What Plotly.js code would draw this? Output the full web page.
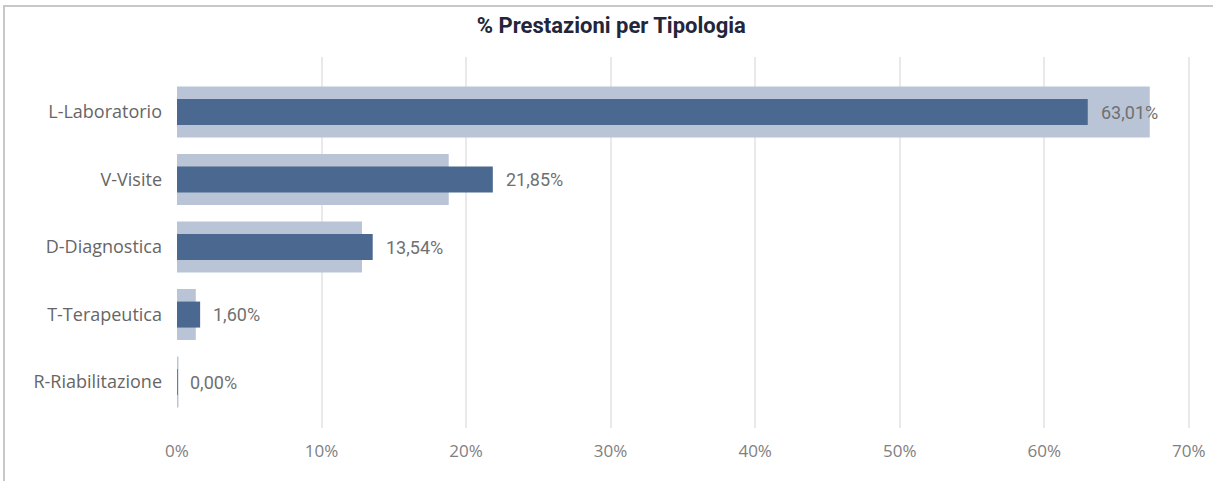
<!DOCTYPE html>
<html>
<head>
<meta charset="utf-8">
<script src="https://cdn.plot.ly/plotly-3.0.1.min.js"></script>
<style>
html,body{margin:0;padding:0;background:#fff;}
#wrap{position:relative;width:1213px;height:481px;}
#chart{width:1213px;height:481px;}
#frame{position:absolute;left:3px;top:5px;width:1212px;height:480px;border-left:2px solid #c8c8c8;border-top:2px solid #c8c8c8;pointer-events:none;}
</style>
</head>
<body>
<div id="wrap"><div id="chart"></div><div id="frame"></div></div>
<script>
const categories = ["L-Laboratorio", "V-Visite", "D-Diagnostica", "T-Terapeutica", "R-Riabilitazione"];
const actualValues = [63.01, 21.85, 13.54, 1.60, 0.00];
const referenceValues = [67.3, 18.8, 12.8, 1.3, 0.1];
const xTickValues = [0, 10, 20, 30, 40, 50, 60, 70];
const xTickLabels = ["0%", "10%", "20%", "30%", "40%", "50%", "60%", "70%"];

const labels = actualValues.map(v => v.toFixed(2).replace('.', ',') + '%');

const traces = [
  {
    type: 'bar', orientation: 'h', y: categories, x: referenceValues,
    width: categories.map(() => 0.755),
    marker: {color: '#b9c5d6'}, hoverinfo: 'skip', showlegend: false
  },
  {
    type: 'bar', orientation: 'h', y: categories, x: actualValues,
    width: categories.map(() => 0.385),
    marker: {color: '#4a6890', line: {color: '#4a6890', width: actualValues.map(v => v === 0 ? 1 : 0)}},
    showlegend: false
  }
];

const annotations = categories.map((c, i) => ({
  x: actualValues[i], y: c, xref: 'x', yref: 'y',
  text: labels[i], showarrow: false, xanchor: 'left', xshift: 11, yshift: 0,
  font: {family: 'Roboto, sans-serif', size: 18, color: '#707070'}
}));

const layout = {
  width: 1213, height: 481,
  margin: {l: 177, r: 17, t: 57, b: 53},
  paper_bgcolor: '#ffffff', plot_bgcolor: '#ffffff',
  barmode: 'overlay',
  title: {text: '<b>% Prestazioni per Tipologia</b>', x: 0.504, xanchor: 'center', y: 0.947, yanchor: 'middle',
    font: {family: 'Roboto, sans-serif', size: 22, color: '#23263a'}},
  xaxis: {
    range: [0, 70.5], tickvals: xTickValues, ticktext: xTickLabels,
    showgrid: true, gridcolor: '#e9e9e9', gridwidth: 2, zeroline: false,
    showline: false, ticks: '', ticklabelstandoff: 11,
    tickfont: {family: '"Open Sans", sans-serif', size: 17, color: '#808080'}
  },
  yaxis: {
    type: 'category', categoryorder: 'array', categoryarray: categories,
    range: [4.68, -0.815], showgrid: false, zeroline: false, showline: false,
    ticks: '', ticklabelstandoff: 14,
    tickfont: {family: '"Open Sans", sans-serif', size: 18, color: '#666666'}
  },
  annotations: annotations,
  font: {family: '"Open Sans", sans-serif'}
};

Plotly.newPlot('chart', traces, layout, {displayModeBar: false, staticPlot: true});
</script>
</body>
</html>
